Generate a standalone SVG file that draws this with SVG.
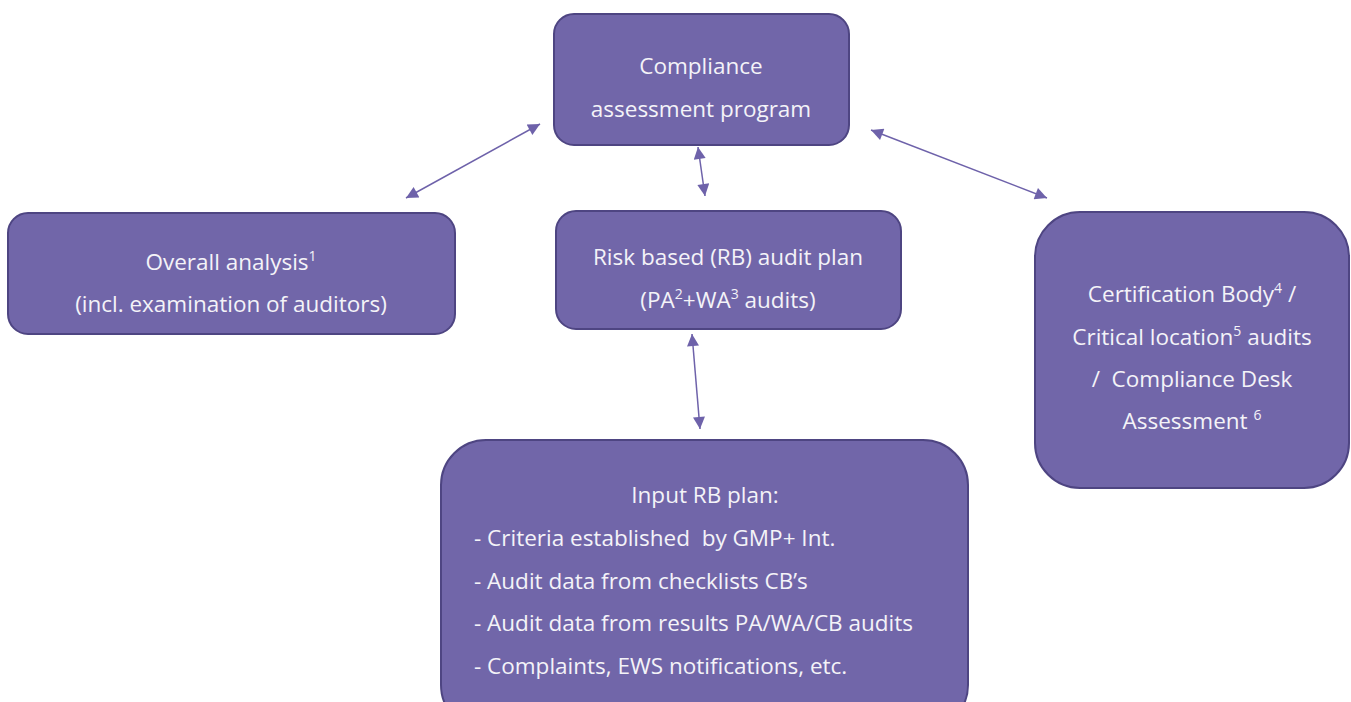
<svg xmlns="http://www.w3.org/2000/svg" width="1351" height="702" viewBox="0 0 1351 702">
<style>
.box{fill:#7166A9;stroke:#4E4582;stroke-width:2}
.t{font-family:"Open Sans","Noto Sans","Liberation Sans",sans-serif;font-size:22.5px;fill:#F4F3F8;white-space:pre}
.c{text-anchor:middle}
.sup{font-size:14px}
.con{stroke:#6E62AA;stroke-width:1.5;fill:none;marker-start:url(#ah);marker-end:url(#ah)}
</style>
<defs>
<marker id="ah" viewBox="0 0 10 10" refX="10" refY="5" markerWidth="15" markerHeight="12" markerUnits="userSpaceOnUse" orient="auto-start-reverse">
<path d="M0,0 L10,5 L0,10 Z" fill="#6E62AA"/>
</marker>
</defs>
<g id="connectors">
<line class="con" x1="540" y1="124" x2="406" y2="198"/>
<line class="con" x1="871" y1="130" x2="1047" y2="198"/>
<line class="con" x1="698" y1="147" x2="705" y2="196"/>
<line class="con" x1="692" y1="334" x2="700" y2="429"/>
</g>
<g id="n-program">
<rect class="box" x="554" y="14" width="295" height="131" rx="20"/>
<text class="t c" x="701" y="74">Compliance</text>
<text class="t c" x="701" y="117">assessment program</text>
</g>
<g id="n-overall">
<rect class="box" x="8" y="213" width="447" height="121" rx="20"/>
<text class="t c" x="231" y="270">Overall analysis<tspan class="sup" dy="-9">1</tspan></text>
<text class="t c" x="231" y="312">(incl. examination of auditors)</text>
</g>
<g id="n-rb">
<rect class="box" x="556" y="211" width="345" height="118" rx="20"/>
<text class="t c" x="728" y="265">Risk based (RB) audit plan</text>
<text class="t c" x="728" y="308">(PA<tspan class="sup" dy="-9">2</tspan><tspan dy="9">+WA</tspan><tspan class="sup" dy="-9">3</tspan><tspan dy="9"> audits)</tspan></text>
</g>
<g id="n-cb">
<rect class="box" x="1035" y="212" width="314" height="276" rx="45"/>
<text class="t c" x="1192" y="302">Certification Body<tspan class="sup" dy="-9">4</tspan><tspan dy="9"> /</tspan></text>
<text class="t c" x="1192" y="345">Critical location<tspan class="sup" dy="-9">5</tspan><tspan dy="9"> audits</tspan></text>
<text class="t c" x="1192" y="387" xml:space="preserve">/  Compliance Desk</text>
<text class="t c" x="1192" y="429">Assessment <tspan class="sup" dy="-9">6</tspan></text>
</g>
<g id="n-input">
<rect class="box" x="441" y="440" width="527" height="290" rx="45"/>
<text class="t c" x="705" y="503">Input RB plan:</text>
<text class="t" x="474" y="546" xml:space="preserve">- Criteria established  by GMP+ Int.</text>
<text class="t" x="474" y="589">- Audit data from checklists CB’s</text>
<text class="t" x="474" y="631">- Audit data from results PA/WA/CB audits</text>
<text class="t" x="474" y="674">- Complaints, EWS notifications, etc.</text>
</g>
</svg>
